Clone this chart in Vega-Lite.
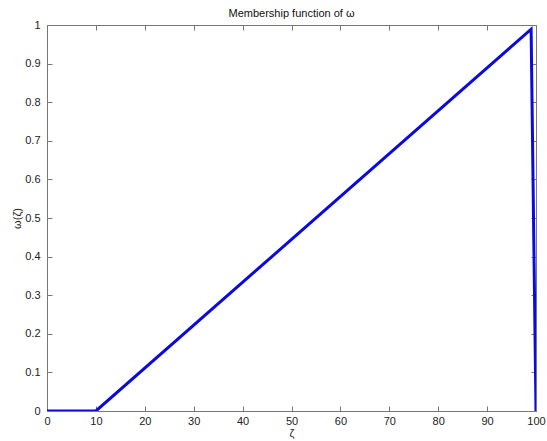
{
  "$schema": "https://vega.github.io/schema/vega-lite/v6.json",
  "width": 489,
  "height": 386,
  "autosize": {"type": "none"},
  "padding": {"left": 47, "top": 25, "right": 11, "bottom": 30},
  "background": "white",
  "title": {
    "text": "Membership function of ω",
    "font": "Liberation Sans",
    "fontSize": 11,
    "fontWeight": "normal",
    "color": "#111",
    "offset": 0,
    "anchor": "middle"
  },
  "config": {
    "view": {"stroke": null},
    "axis": {
      "grid": false,
      "domainColor": "#777",
      "tickColor": "#777",
      "labelFont": "Liberation Sans",
      "labelFontSize": 11,
      "labelColor": "#222",
      "titleFont": "Liberation Sans",
      "titleFontSize": 11,
      "titleFontWeight": "normal",
      "titleColor": "#222"
    }
  },
  "data": {
    "values": [
      {"zeta": 0, "omega": 0},
      {"zeta": 10, "omega": 0},
      {"zeta": 99, "omega": 0.989},
      {"zeta": 100, "omega": 0}
    ]
  },
  "layer": [
    {
      "mark": {"type": "line", "color": "#0a0ae0", "strokeWidth": 3, "strokeJoin": "miter", "clip": true},
      "encoding": {
        "x": {
          "field": "zeta", "type": "quantitative",
          "scale": {"domain": [0, 100], "nice": false, "zero": false},
          "axis": {"orient": "bottom", "values": [0,10,20,30,40,50,60,70,80,90,100], "format": "d", "tickSize": -5, "labelPadding": 9, "title": "ζ", "titlePadding": 1, "labelFlush": false}
        },
        "y": {
          "field": "omega", "type": "quantitative",
          "scale": {"domain": [0, 1], "nice": false},
          "axis": {"orient": "left", "values": [0,0.1,0.2,0.3,0.4,0.5,0.6,0.7,0.8,0.9,1], "format": "~g", "tickSize": -5, "labelPadding": 12, "title": "ω(ζ)", "titlePadding": 2, "labelFlush": false}
        }
      }
    },
    {
      "mark": {"type": "line", "opacity": 0},
      "encoding": {
        "x": {
          "field": "zeta", "type": "quantitative",
          "axis": {"orient": "top", "values": [0,10,20,30,40,50,60,70,80,90,100], "tickSize": -5, "labels": false, "title": null}
        },
        "y": {
          "field": "omega", "type": "quantitative",
          "axis": {"orient": "right", "values": [0,0.1,0.2,0.3,0.4,0.5,0.6,0.7,0.8,0.9,1], "tickSize": -5, "labels": false, "title": null}
        }
      }
    }
  ],
  "resolve": {"axis": {"x": "independent", "y": "independent"}}
}
